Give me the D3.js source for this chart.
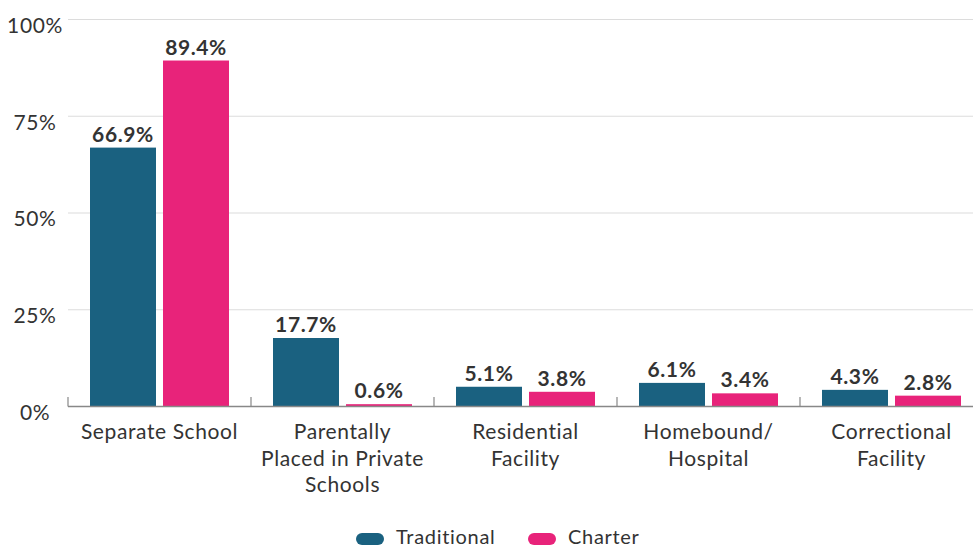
<!DOCTYPE html>
<html><head><meta charset="utf-8">
<script src="https://cdn.jsdelivr.net/npm/d3@7"></script>
<style>body{margin:0;background:#fff}svg{display:block;font-family:Lato,"Noto Sans",sans-serif}</style>
</head><body><svg id="c" width="973" height="548"></svg>
<script>
const categories = ["Separate School","Parentally\nPlaced in Private\nSchools","Residential\nFacility","Homebound/\nHospital","Correctional\nFacility"];
const seriesNames = ["Traditional","Charter"];
const traditional = [66.9,17.7,5.1,6.1,4.3];
const charter = [89.4,0.6,3.8,3.4,2.8];
const yTicks = [0,25,50,75,100];
const colors = {Traditional:"#1a6180", Charter:"#e8237a"};

const svg = d3.select("#c");
const x = d3.scaleBand().domain(categories).range([68,983]).padding(0);
const xs = d3.scaleBand().domain(seriesNames).range([22,161]).paddingInner(0.0959).paddingOuter(0);
const y = d3.scaleLinear().domain([0,100]).range([406.5,19.5]);

svg.append("g").selectAll("line").data(yTicks.filter(d=>d>0)).join("line")
  .attr("x1",68).attr("x2",973).attr("y1",d=>y(d)).attr("y2",d=>y(d))
  .attr("stroke","#dcdcdc").attr("stroke-width",1.2);
svg.append("g").selectAll("text").data(yTicks).join("text")
  .attr("x",35).attr("y",d=>y(d)+6).attr("text-anchor","middle").attr("dy","0.35em")
  .attr("font-size",21).attr("letter-spacing",0.6).attr("fill","#333").text(d=>d+"%");

const data = categories.map((c,i)=>({cat:c, vals:[{s:"Traditional",v:traditional[i]},{s:"Charter",v:charter[i]}]}));
const g = svg.append("g").selectAll("g").data(data).join("g").attr("transform",d=>`translate(${x(d.cat)},0)`);
g.selectAll("rect").data(d=>d.vals).join("rect")
  .attr("x",d=>xs(d.s)).attr("width",xs.bandwidth())
  .attr("y",d=>y(d.v)).attr("height",d=>y(0)-y(d.v)).attr("fill",d=>colors[d.s]);
g.selectAll("text.v").data(d=>d.vals).join("text").attr("class","v")
  .attr("x",d=>xs(d.s)+xs.bandwidth()/2).attr("y",d=>y(d.v)-6)
  .attr("text-anchor","middle").attr("font-size",21).attr("letter-spacing",0.6).attr("font-weight",700).attr("fill","#333")
  .text(d=>d.v.toFixed(1)+"%");

svg.append("line").attr("x1",68).attr("x2",973).attr("y1",y(0)).attr("y2",y(0)).attr("stroke","#888").attr("stroke-width",1.5);
svg.append("g").selectAll("line").data(categories).join("line")
  .attr("x1",d=>x(d)).attr("x2",d=>x(d)).attr("y1",y(0)-9.5).attr("y2",y(0)).attr("stroke","#888").attr("stroke-width",1.2);
const cl = svg.append("g").selectAll("text").data(categories).join("text")
  .attr("text-anchor","middle").attr("font-size",21).attr("letter-spacing",0.6).attr("fill","#333")
  .attr("transform",d=>`translate(${x(d)+x.bandwidth()/2},439)`);
cl.selectAll("tspan").data(d=>d.split("\n")).join("tspan").attr("x",0).attr("dy",(d,i)=>i?26.5:0).text(d=>d);

const leg = svg.append("g");
const legX = [356,528];
seriesNames.forEach((s,i)=>{
  leg.append("rect").attr("x",legX[i]).attr("y",533).attr("width",28).attr("height",12).attr("rx",6).attr("fill",colors[s]);
  leg.append("text").attr("x",legX[i]+40).attr("y",537).attr("dy","0.35em").attr("font-size",20).attr("letter-spacing",0.7).attr("fill","#333").text(s);
});
</script></body></html>
